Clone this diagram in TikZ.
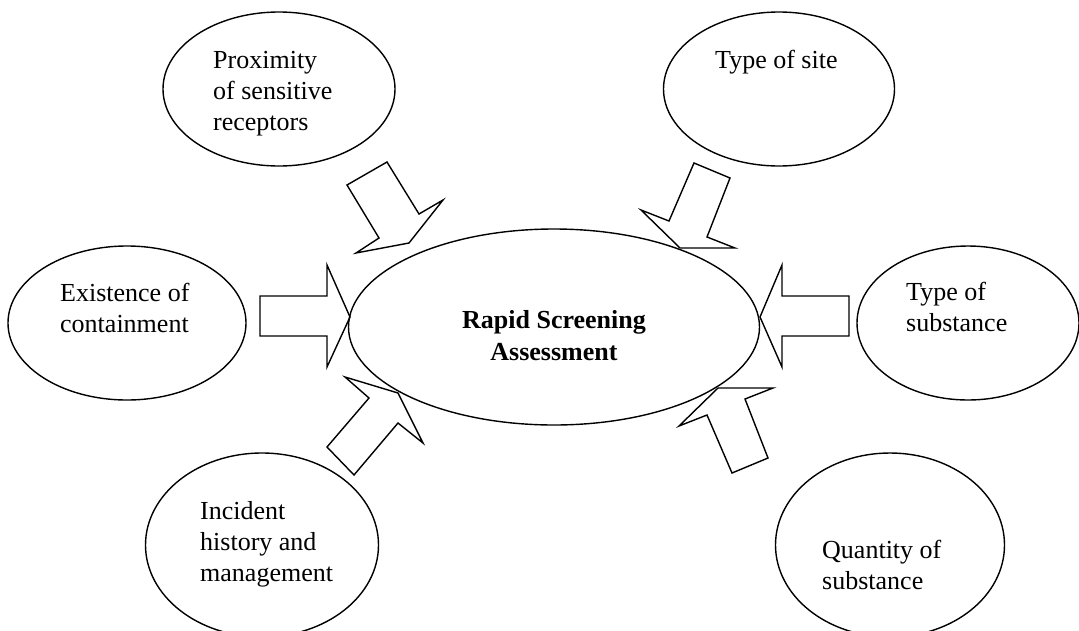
\documentclass[tikz,border=0pt]{standalone}
\usepackage{fontspec}
\setmainfont{Liberation Serif}
\usetikzlibrary{shapes.geometric}

\begin{document}
\begin{tikzpicture}[x=1pt, y=-1pt,
  factor/.style={draw, ellipse, line width=1.4pt, inner sep=0pt},
  label/.style={anchor=base west, inner sep=0pt, font=\fontsize{26}{31}\selectfont},
  blockarrow/.style={draw, line width=1.4pt, line join=miter}]
\useasboundingbox (0,0) rectangle (1079,630);

% ellipses around the central assessment
\node[factor, minimum width=232pt, minimum height=154pt] (prox) at (279,89) {};
\node[factor, minimum width=231pt, minimum height=154pt] (site) at (779,89) {};
\node[factor, minimum width=238pt, minimum height=154pt] (cont) at (127,323) {};
\node[factor, minimum width=222pt, minimum height=154pt] (subst) at (968,323) {};
\node[factor, minimum width=233pt, minimum height=184pt] (hist) at (262,545) {};
\node[factor, minimum width=229pt, minimum height=184pt] (qty) at (890,545) {};
\node[factor, minimum width=411pt, minimum height=196pt] (rsa) at (554,327) {};

% texts
\node[label] (tprox1) at (213,68) {Proximity};
\node[label] (tprox2) at (213,99) {of sensitive};
\node[label] (tprox3) at (213,130) {receptors};
\node[label] (tsite) at (715,68) {Type of site};
\node[label] (tcont1) at (60,301) {Existence of};
\node[label] (tcont2) at (60,332) {containment};
\node[label] (tsub1) at (906,300) {Type of};
\node[label] (tsub2) at (906,331) {substance};
\node[label] (thist1) at (200,519) {Incident};
\node[label] (thist2) at (200,550) {history and};
\node[label] (thist3) at (200,581) {management};
\node[label] (tqty1) at (822,558) {Quantity of};
\node[label] (tqty2) at (822,589) {substance};
\node[anchor=base, inner sep=0pt, align=center, font=\fontsize{26}{32}\bfseries\selectfont]
  (trsa) at (554,360) {Rapid Screening\\Assessment};

% block arrows pointing at the assessment
\draw[blockarrow] (387,162) -- (347,185) -- (379,238) -- (356,253) -- (409,243)
  -- (443,200) -- (419,214) -- cycle;
\draw[blockarrow] (694,163) -- (730,178) -- (707,237) -- (735,248) -- (680,248)
  -- (641,210) -- (669,221) -- cycle;
\draw[blockarrow] (260,296) -- (327,296) -- (327,265) -- (350,317) -- (327,367)
  -- (327,336) -- (260,336) -- cycle;
\draw[blockarrow] (849,296) -- (782,296) -- (782,265) -- (760,317) -- (782,367)
  -- (782,336) -- (849,336) -- cycle;
\draw[blockarrow] (327,447) -- (369,398) -- (345,377) -- (398,393) -- (423,443)
  -- (398,423) -- (354,475) -- cycle;
\draw[blockarrow] (732,473) -- (768,458) -- (745,399) -- (773,388) -- (718,388)
  -- (679,426) -- (707,415) -- cycle;
\end{tikzpicture}
\end{document}
